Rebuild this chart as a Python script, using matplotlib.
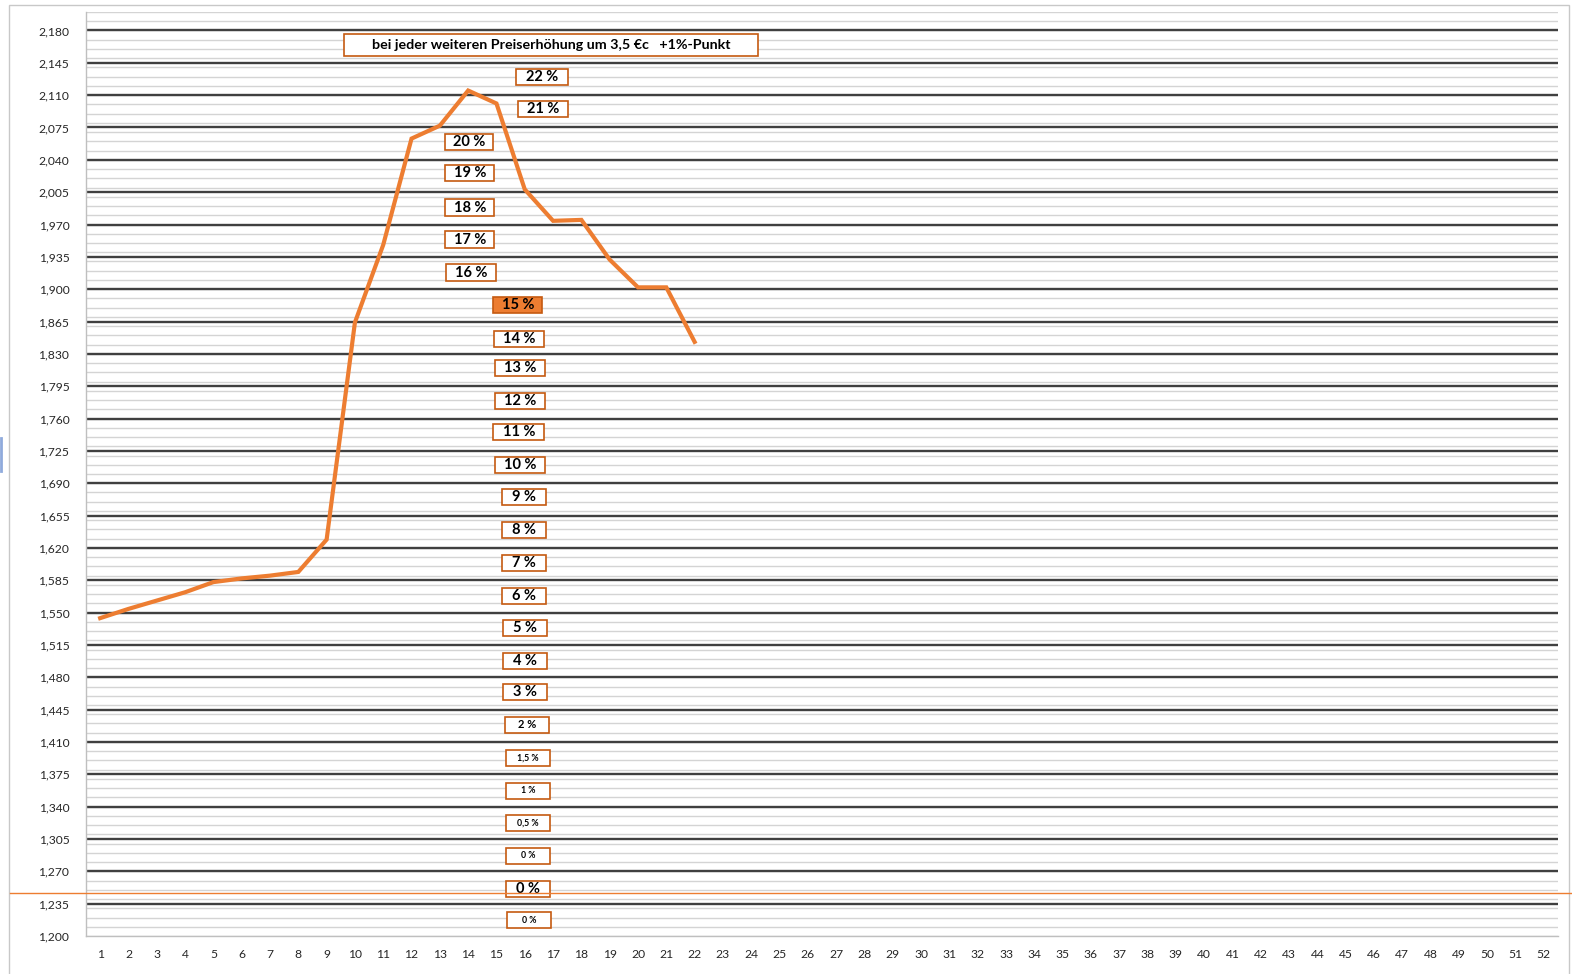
import matplotlib.pyplot as plt
from matplotlib.patches import Rectangle
from matplotlib.lines import Line2D
import numpy as np

plt.rcParams['font.family'] = ['Lato', 'DejaVu Sans']

# weekly values (x = 1..22 of 52 categories)
weeks = list(range(1, 53))
values = [1544, 1554, 1563, 1572, 1583, 1587, 1590, 1594, 1629, 1864, 1948,
          2063, 2077, 2115, 2101, 2008, 1974, 1975, 1932, 1902, 1902, 1843]

title_text = "bei jeder weiteren Preiserhöhung um 3,5 €c   +1%-Punkt"

# percentage boxes: label, x centre (category), y centre (value), width in categories, font size
box_labels = ["22 %", "21 %", "20 %", "19 %", "18 %", "17 %", "16 %", "15 %", "14 %",
              "13 %", "12 %", "11 %", "10 %", "9 %", "8 %", "7 %", "6 %", "5 %", "4 %",
              "3 %", "2 %", "1,5 %", "1 %", "0,5 %", "0 %", "0 %", "0 %"]
box_x = [16.61, 16.64, 14.03, 14.06, 14.06, 14.06, 14.10, 15.76, 15.79,
         15.83, 15.83, 15.79, 15.83, 15.97, 15.97, 15.97, 15.97, 16.01, 16.01,
         16.01, 16.08, 16.11, 16.11, 16.11, 16.11, 16.11, 16.15]
box_y = [2129.7, 2095.0, 2059.3, 2025.7, 1988.4, 1953.7, 1918.0, 1883.3, 1846.5,
         1815.1, 1779.4, 1745.8, 1710.0, 1675.4, 1639.7, 1603.9, 1568.2, 1533.5, 1497.8,
         1464.2, 1428.5, 1392.8, 1357.0, 1322.4, 1286.6, 1250.9, 1217.3]
box_w = [1.84, 1.77, 1.70, 1.73, 1.73, 1.73, 1.77, 1.73, 1.77,
         1.77, 1.77, 1.80, 1.77, 1.55, 1.55, 1.55, 1.55, 1.55, 1.55,
         1.55, 1.55, 1.55, 1.55, 1.55, 1.55, 1.55, 1.55]
box_fs = [10.5] * 20 + [8, 6.3, 6.3, 6.3, 6.3, 10.5, 6.3]
highlight = "15 %"

orange = '#ED7D31'
edge = '#C55A11'

fig = plt.figure(figsize=(15.72, 9.74), dpi=100)
ax = fig.add_axes([86 / 1572, 1 - 936 / 974, (1558 - 86) / 1572, (936 - 12) / 974])

ax.set_xlim(0.5, 52.5)
ax.set_ylim(1200, 2200)

# minor grid every 10, major every 35
for v in np.arange(1200, 2201, 10):
    ax.axhline(v, color='#d4d4d4', lw=1.0, zorder=1)
for v in np.arange(1200, 2200, 35):
    if v > 1200:
        ax.axhline(v, color='#404040', lw=1.7, zorder=2)

ax.plot(weeks[:len(values)], values, color=orange, lw=3.0, solid_joinstyle='miter', zorder=5)

ax.set_xticks(weeks)
ax.set_xticklabels([str(w) for w in weeks])
ax.set_yticks(np.arange(1200, 2200, 35))
ax.set_yticklabels([f"{v // 1000},{v % 1000:03d}" for v in np.arange(1200, 2200, 35)])
ax.tick_params(length=0, labelsize=8.7, colors='#262626', pad=12)
ax.tick_params(axis='x', pad=9)
for s in ['top', 'right']:
    ax.spines[s].set_visible(False)
for s in ['left', 'bottom']:
    ax.spines[s].set_color('#bfbfbf')
    ax.spines[s].set_linewidth(1.0)

box_h = 17.5
for lab, x, y, w, fs in zip(box_labels, box_x, box_y, box_w, box_fs):
    fill = orange if lab == highlight and y > 1850 else 'white'
    ax.add_patch(Rectangle((x - w / 2, y - box_h / 2), w, box_h, facecolor=fill,
                           edgecolor=edge, lw=1.2, zorder=6))
    ax.text(x, y, lab, ha='center', va='center', fontsize=fs, fontweight='bold',
            color='black', zorder=7)

# title box
ax.add_patch(Rectangle((16.93 - 14.62 / 2, 2164.3 - 11.4), 14.62, 22.8, facecolor='white',
                       edgecolor=edge, lw=1.2, zorder=6))
ax.text(16.93, 2164.3, title_text, ha='center', va='center', fontsize=10.3,
        fontweight='bold', color='black', zorder=7)

# thin orange line across the whole chart area at ~1,246
y_line = ax.transData.transform((0, 1246))[1] / fig.bbox.height
fig.add_artist(Line2D([10 / 1572, 1.0], [y_line, y_line], color=orange, lw=1.0))

# chart area border and selection mark
fig.add_artist(Rectangle((9 / 1572, -0.01), (1569 - 9) / 1572, 1 - 4.5 / 974 + 0.01,
                         fill=False, edgecolor='#c8c8c8', lw=1.0))
fig.add_artist(Line2D([1 / 1572, 1 / 1572], [1 - 438 / 974, 1 - 471 / 974],
                      color='#8FAADC', lw=2))

fig.savefig('out.png', dpi=100)
